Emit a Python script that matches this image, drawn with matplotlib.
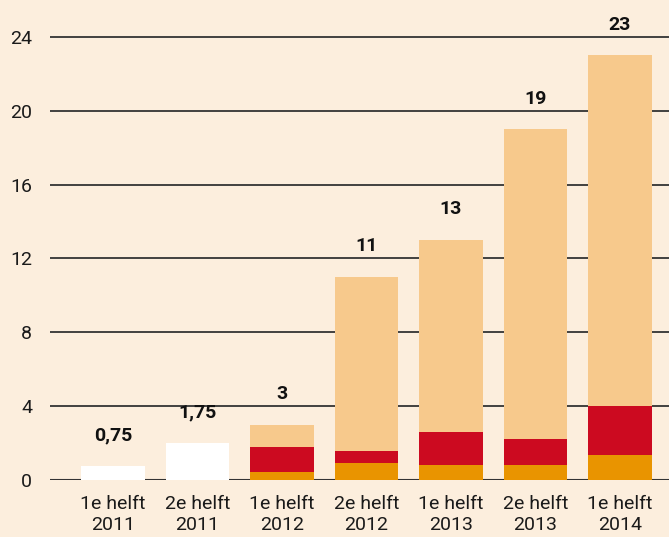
import matplotlib
matplotlib.use("Agg")
import matplotlib.pyplot as plt
import numpy as np

categories = ["1e helft\n2011", "2e helft\n2011", "1e helft\n2012", "2e helft\n2012",
              "1e helft\n2013", "2e helft\n2013", "1e helft\n2014"]
white_vals = [0.75, 2.0, 0, 0, 0, 0, 0]
orange_vals = [0, 0, 0.43, 0.92, 0.81, 0.81, 1.35]
red_vals = [0, 0, 1.36, 0.65, 1.79, 1.41, 2.65]
totals = [0.75, 2.0, 3, 11, 13, 19, 23]
total_labels = ["0,75", "1,75", "3", "11", "13", "19", "23"]
yticks = [0, 4, 8, 12, 16, 20, 24]

bg = "#FCEEDD"
c_white = "#FFFFFF"
c_orange = "#E99400"
c_red = "#CC0A20"
c_light = "#F7C98C"

plt.rcParams['font.family'] = ['Roboto', 'DejaVu Sans']

fig = plt.figure(figsize=(6.69, 5.37), dpi=100, facecolor=bg)
ax = fig.add_axes([50/669, 1 - 480/537, 619/669, 480/537])
ax.set_facecolor(bg)

x = np.arange(len(categories))
w = 0.75
orange = np.array(orange_vals)
red = np.array(red_vals)
tot = np.array(totals, dtype=float)
white = np.array(white_vals)
light = np.where(white > 0, 0, tot - orange - red)

ax.bar(x, white, w, color=c_white, zorder=3)
ax.bar(x, orange, w, color=c_orange, zorder=3)
ax.bar(x, red, w, bottom=orange, color=c_red, zorder=3)
ax.bar(x, light, w, bottom=orange + red, color=c_light, zorder=3)

for xi, t, lab in zip(x, tot, total_labels):
    ax.annotate(lab, (xi, t), xytext=(0, 22), textcoords="offset points",
                ha="center", va="center", fontsize=14, fontweight="bold", color="#111111")

ax.set_xlim(-0.745, 6.58)
ax.set_ylim(0, 26)
ax.set_yticks(yticks)
ax.set_yticklabels([str(v) for v in yticks], fontsize=14, color="#1a1a1a")
ax.set_xticks(x)
ax.set_xticklabels(categories, fontsize=14, color="#1a1a1a", linespacing=1.2)
ax.tick_params(axis="y", length=0, pad=13)
ax.tick_params(axis="x", length=0, pad=11)
ax.yaxis.grid(True, color="#333333", linewidth=1.3, zorder=1)
ax.set_axisbelow(True)
for s in ax.spines.values():
    s.set_visible(False)
ax.axhline(0, color="#333333", linewidth=1.5, zorder=2)

fig.savefig("out.png", dpi=100, facecolor=bg)
